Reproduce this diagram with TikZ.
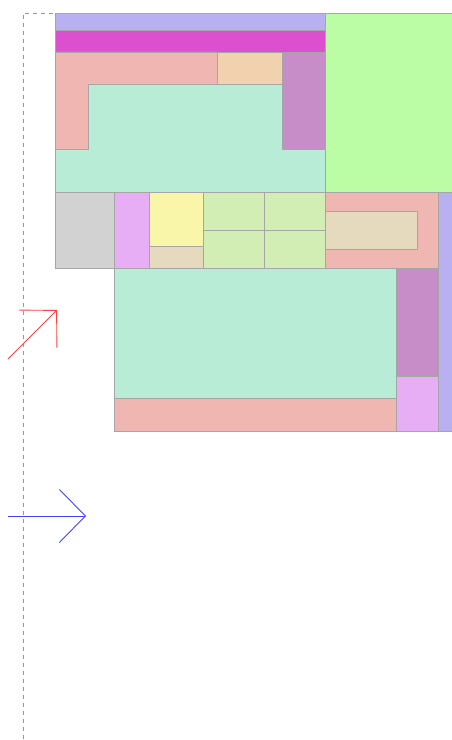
\documentclass[tikz,border=0pt]{standalone}
\usepackage{tikz}
\usetikzlibrary{arrows.meta}

\definecolor{lavender}{HTML}{B9B0F2}
\definecolor{magentab}{HTML}{DC50D0}
\definecolor{salmon}{HTML}{F0B6B2}
\definecolor{peach}{HTML}{F2D2AE}
\definecolor{plum}{HTML}{C78DC9}
\definecolor{mint}{HTML}{B9ECD7}
\definecolor{lime}{HTML}{BBFDA5}
\definecolor{greyb}{HTML}{D2D2D2}
\definecolor{orchid}{HTML}{E8AEF5}
\definecolor{butter}{HTML}{F9F5A9}
\definecolor{sand}{HTML}{E5D9BE}
\definecolor{sage}{HTML}{D3EEB5}

\begin{document}
\begin{tikzpicture}[
    x=0.02cm, y=-0.02cm,
    blk/.style={
        draw=black!35,
        line width=0.4pt
    },
    guide/.style={
        draw=black!40,
        line width=0.4pt,
        dash pattern=on 0.08cm off 0.08cm
    },
    barb/.style={
        -{Straight Barb[length=0.52cm, width=1.06cm]},
        line width=0.5pt
    }
]
    \useasboundingbox (0,0) rectangle (452,740);

    % guide
    \draw[guide] (53,13) -- (23,13) -- (23,740);

    % upper block
    \filldraw[blk, fill=lavender] (55,13) rectangle (325,30);
    \filldraw[blk, fill=magentab] (55,30) rectangle (325,52);
    \filldraw[blk, fill=salmon] (55,52) -- (217,52) -- (217,84) -- (88,84) -- (88,149) -- (55,149) -- cycle;
    \filldraw[blk, fill=peach] (217,52) rectangle (282,84);
    \filldraw[blk, fill=plum] (282,52) rectangle (325,149);
    \filldraw[blk, fill=mint] (88,84) -- (282,84) -- (282,149) -- (325,149) -- (325,192) -- (55,192) -- (55,149) -- (88,149) -- cycle;
    \filldraw[blk, fill=lime] (325,13) rectangle (452,192);

    % middle row
    \filldraw[blk, fill=greyb] (55,192) rectangle (114,268);
    \filldraw[blk, fill=orchid] (114,192) rectangle (149,268);
    \filldraw[blk, fill=butter] (149,192) rectangle (203,246);
    \filldraw[blk, fill=sand] (149,246) rectangle (203,268);
    \foreach \xa/\xb in {203/264, 264/325}
        \foreach \ya/\yb in {192/230, 230/268}
            \filldraw[blk, fill=sage] (\xa,\ya) rectangle (\xb,\yb);
    \filldraw[blk, fill=salmon] (325,192) rectangle (438,268);
    \filldraw[blk, fill=sand] (325,211) rectangle (417,249);
    \filldraw[blk, fill=lavender] (438,192) rectangle (452,431);

    % lower block
    \filldraw[blk, fill=mint] (114,268) rectangle (396,398);
    \filldraw[blk, fill=salmon] (114,398) rectangle (396,431);
    \filldraw[blk, fill=plum] (396,268) rectangle (438,376);
    \filldraw[blk, fill=orchid] (396,376) rectangle (438,431);

    % arrows
    \coordinate (redtail) at (8,359);
    \coordinate (redtip) at (57,310);
    \coordinate (bluetail) at (8,516);
    \coordinate (bluetip) at (86,516);
    \draw[barb, red!75] (redtail) -- (redtip);
    \draw[barb, blue!75] (bluetail) -- (bluetip);
\end{tikzpicture}
\end{document}
